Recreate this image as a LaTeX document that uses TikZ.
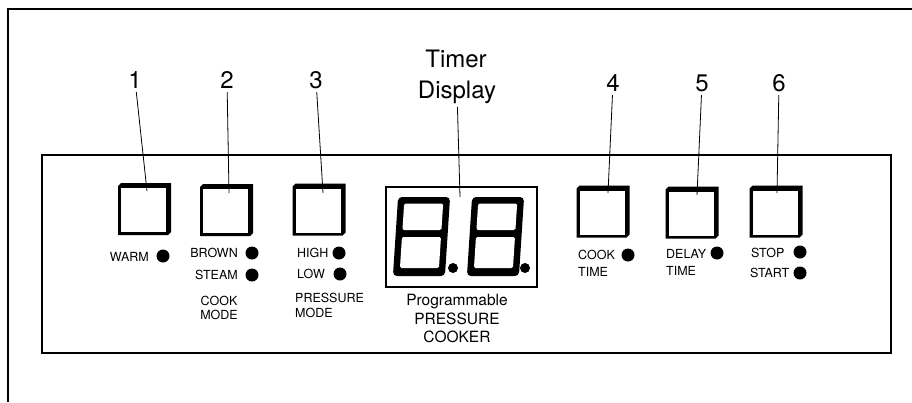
\documentclass[tikz,border=0pt]{standalone}
\usepackage{fontspec}
\setmainfont{TeX Gyre Heros}
\tikzset{
  btn/.style={minimum width=53pt,minimum height=52pt,inner sep=0pt,outer sep=0pt},
  led/.style={circle,fill=black,minimum size=13pt,inner sep=0pt},
  lbl/.style={inner sep=0pt,font=\fontsize{12.5}{14}\selectfont},
  num/.style={font=\fontsize{24}{28}\selectfont},
  lead/.style={line width=0.8pt}
}
% one slanted 8-segment digit
\newcommand\segdigit[1]{%
  \begin{scope}[shift={#1},xslant=0.065]
    \fill[rounded corners=4pt] (-26,-39.5) rectangle (26,39.5);
    \fill[white,rounded corners=1.5pt] (-19.5,-33) rectangle (19.5,-6.5);
    \fill[white,rounded corners=1.5pt] (-19.5,0.5) rectangle (19.5,31.5);
  \end{scope}}

\begin{document}
\begin{tikzpicture}[x=1pt,y=-1pt]
  \useasboundingbox (0,0) rectangle (912,402);
  \draw[line width=1.5pt] (912,9) -- (8,9) -- (8,402);
  \draw[line width=1.2pt] (42,155) rectangle (891,353);

  % keys
  \node[btn] (b1) at (144.5,209) {};
  \node[btn] (b2) at (226.5,210) {};
  \node[btn] (b3) at (319,209.5) {};
  \node[btn] (b4) at (603,211.5) {};
  \node[btn] (b5) at (692,212.5) {};
  \node[btn] (b6) at (776,211.5) {};
  \foreach \i in {1,...,6} {
    \fill ([shift={(0,3)}]b\i.north west) -- ([shift={(3,0)}]b\i.north west) -- (b\i.north east)
      -- ([shift={(0,-3)}]b\i.south east) -- ([shift={(-3,0)}]b\i.south east) -- (b\i.south west) -- cycle;
    \fill[white] ([shift={(3,5)}]b\i.north west) rectangle ([shift={(-5,-3)}]b\i.south east);
  }

  % numbers and leaders
  \node[num] (n1) at (135,80) {1};
  \node[num] (n2) at (227,80) {2};
  \node[num] (n3) at (316,80) {3};
  \node[num] (n4) at (613,83) {4};
  \node[num] (n5) at (702,83) {5};
  \node[num] (n6) at (779,83) {6};
  \coordinate (p1) at (147,191);
  \coordinate (p2) at (229,193);
  \coordinate (p3) at (323,193);
  \coordinate (p4) at (608,193);
  \coordinate (p5) at (697,195);
  \coordinate (p6) at (777,193);
  \foreach \i in {1,...,6} \draw[lead] (n\i) -- (p\i);

  % timer display
  \node[num,anchor=base] (timer) at (456,67) {Timer};
  \node[num,anchor=base] (display) at (457,98) {Display};
  \node[draw,line width=1.5pt,minimum width=151pt,minimum height=100pt,inner sep=0pt] (lcd) at (461.5,237) {};
  \segdigit{(421.5,236.5)}
  \segdigit{(495.5,236.5)}
  \node[led,minimum size=10pt] (dot1) at (453,268) {};
  \node[led,minimum size=10pt] (dot2) at (525,268) {};
  \coordinate (tdisp) at (460,197);
  \draw[lead] (display) -- (tdisp);
  \node[align=center,font=\fontsize{15.5}{18.5}\selectfont] (brand) at (457,318.5) {Programmable\\PRESSURE\\COOKER};

  % indicator lights
  \node[lbl,anchor=east] (warm) at (149,257) {WARM};
  \node[led] (warmled) at (163,256) {};
  \node[lbl,anchor=east] (brown) at (238,253) {BROWN};
  \node[led] (brownled) at (252,253) {};
  \node[lbl,anchor=east] (steam) at (238,275) {STEAM};
  \node[led] (steamled) at (252,275) {};
  \node[lbl] (cook) at (219,301) {COOK};
  \node[lbl] (cmode) at (219,315) {MODE};
  \node[lbl,anchor=west] (high) at (297,253) {HIGH};
  \node[led] (highled) at (339,253) {};
  \node[lbl,anchor=west] (low) at (297,274) {LOW};
  \node[led] (lowled) at (340,274) {};
  \node[lbl,anchor=west] (pres) at (295,298) {PRESSURE};
  \node[lbl,anchor=west] (pmode) at (295,313) {MODE};
  \node[lbl,anchor=west] (ctime) at (578,255) {COOK};
  \node[led] (ctimeled) at (628,255) {};
  \node[lbl,anchor=west] (ctime2) at (578,272) {TIME};
  \node[lbl,anchor=west] (delay) at (666,254) {DELAY};
  \node[led] (delayled) at (717,253) {};
  \node[lbl,anchor=west] (delay2) at (666,271) {TIME};
  \node[lbl,anchor=west] (stop) at (751,253) {STOP};
  \node[led] (stopled) at (800,252) {};
  \node[lbl,anchor=west] (start) at (750,273) {START};
  \node[led] (startled) at (800,273) {};
\end{tikzpicture}
\end{document}
